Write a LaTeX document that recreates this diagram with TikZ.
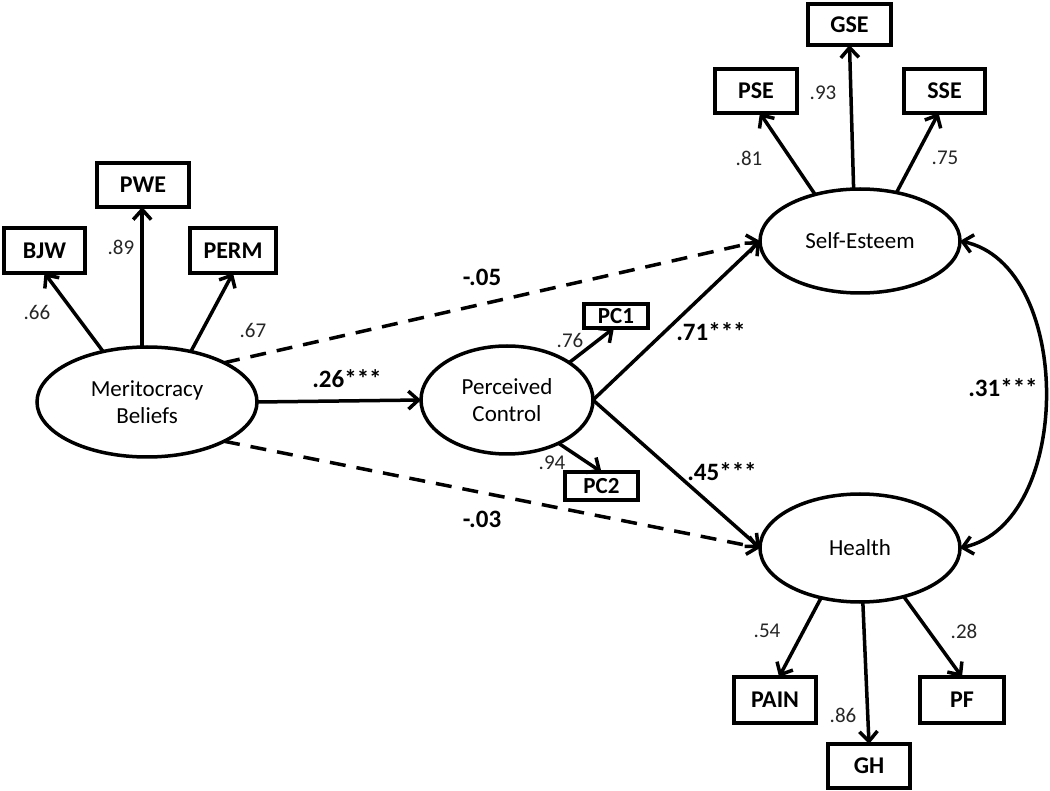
\documentclass[tikz,border=0pt]{standalone}
\usepackage{fontspec}
\setmainfont{Carlito}
\usetikzlibrary{arrows.meta,shapes.geometric,calc}
\begin{document}
\begin{tikzpicture}[x=1pt,y=-1pt,
  lat/.style={ellipse,draw,line width=3.5pt,align=center,inner sep=0pt,outer sep=0pt,font=\fontsize{23}{27}\selectfont},
  obs/.style={rectangle,draw,line width=4pt,inner sep=0pt,outer sep=0pt,font=\bfseries\fontsize{24}{28}\selectfont},
  obss/.style={obs,font=\bfseries\fontsize{23}{26}\selectfont},
  ld/.style={font=\fontsize{21}{24}\selectfont,text=black!85,inner sep=0pt},
  coef/.style={font=\bfseries\fontsize{25}{28}\selectfont,inner sep=0pt},
  arr/.style={line width=3.5pt,-{Straight Barb[length=10pt,width=18pt]}},
  dsh/.style={arr,dash pattern=on 16pt off 11pt},
  dbl/.style={line width=3.5pt,{Straight Barb[length=10pt,width=18pt]}-{Straight Barb[length=10pt,width=18pt]}},
]
\useasboundingbox (0,0) rectangle (1050,791);

% latent variables
\node[lat,minimum width=220pt,minimum height=110pt] (MB) at (147,402) {Meritocracy\\Beliefs};
\node[lat,minimum width=172pt,minimum height=108pt] (PC) at (507,400) {Perceived\\Control};
\node[lat,minimum width=200pt,minimum height=104pt] (SE) at (860,241) {Self-Esteem};
\node[lat,minimum width=200pt,minimum height=108pt] (H) at (860,548) {Health};

% indicators
\node[obs,minimum width=81pt,minimum height=45pt] (BJW) at (44.5,250.5) {BJW};
\node[obs,minimum width=92pt,minimum height=44pt] (PWE) at (143,185) {PWE};
\node[obs,minimum width=86pt,minimum height=45pt] (PERM) at (233,250.5) {PERM};
\node[obs,minimum width=83pt,minimum height=41pt] (GSE) at (849.5,24.5) {GSE};
\node[obs,minimum width=82pt,minimum height=44pt] (PSE) at (756,91) {PSE};
\node[obs,minimum width=81pt,minimum height=44pt] (SSE) at (944.5,91) {SSE};
\node[obss,minimum width=64pt,minimum height=24pt] (PC1) at (616,316) {PC1};
\node[obss,minimum width=73pt,minimum height=28pt] (PC2) at (601.5,486) {PC2};
\node[obs,minimum width=82pt,minimum height=46pt] (PAIN) at (775,700) {PAIN};
\node[obs,minimum width=84pt,minimum height=46pt] (PF) at (962,700) {PF};
\node[obs,minimum width=82pt,minimum height=44pt] (GH) at (869,766) {GH};

% measurement arrows
\draw[arr] (MB.131) -- (BJW.south);
\draw[arr] (MB.95) -- (MB.95 |- PWE.south);
\draw[arr] (MB.49) -- (PERM.south);
\draw[arr] (PC.31) -- (PC1.-100);
\draw[arr] (PC.-40) -- (PC2.north);
\draw[arr] (SE.134) -- (PSE.-80);
\draw[arr] (SE.97) -- (GSE.south);
\draw[arr] (SE.53) -- (SSE.-105);
\draw[arr] (H.232) -- (PAIN.80);
\draw[arr] (H.-87) -- (GH.north);
\draw[arr] (H.312) -- (PF.north);

% structural paths
\draw[arr] (MB.east) -- (PC.west);
\draw[dsh] (MB.27) -- (SE.west);
\draw[dsh] (MB.-27) -- (H.west);
\draw[arr] (PC.east) -- (SE.west);
\draw[arr] (PC.east) -- (H.west);
\draw[dbl] (SE.east) .. controls (1074,265) and (1074,523) .. (H.east);

% loadings
\node[ld] (l66) at (37,312) {.66};
\node[ld] (l89) at (121,247) {.89};
\node[ld] (l67) at (253,330) {.67};
\node[ld] (l76) at (570,340) {.76};
\node[ld] (l94) at (552,463) {.94};
\node[ld] (l81) at (749,158) {.81};
\node[ld] (l93) at (823,93) {.93};
\node[ld] (l75) at (945,158) {.75};
\node[ld] (l54) at (767,631) {.54};
\node[ld] (l86) at (843,715) {.86};
\node[ld] (l28) at (964,631) {.28};

% coefficients
\node[coef] (c26) at (347,379) {.26***};
\node[coef] (c05) at (482,277) {-.05};
\node[coef] (c03) at (482,519) {-.03};
\node[coef] (c71) at (711,332) {.71***};
\node[coef] (c45) at (722,472) {.45***};
\node[coef] (c31) at (1003,388) {.31***};
\end{tikzpicture}
\end{document}
